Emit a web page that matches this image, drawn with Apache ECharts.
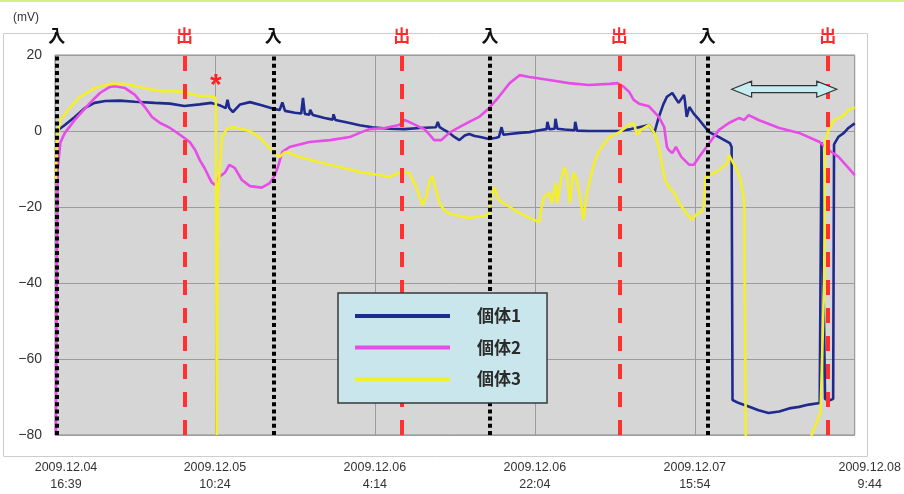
<!DOCTYPE html>
<html>
<head>
<meta charset="utf-8">
<script src="https://cdn.jsdelivr.net/npm/echarts@6/dist/echarts.min.js"></script>
<style>
html,body{margin:0;padding:0;background:#fff;}
#chart{width:904px;height:494px;}
</style>
</head>
<body>
<div id="chart"></div>
<script>
// x values are hours since 2009.12.04 16:39
const xTickLabels = ['2009.12.04\n16:39', '2009.12.05\n10:24', '2009.12.06\n4:14', '2009.12.06\n22:04', '2009.12.07\n15:54', '2009.12.08\n9:44'];
const yTickStep = 20;
const seriesNames = ['個体1', '個体2', '個体3'];

// 入 (in) and 出 (out) event times
const inTimes = [0.2, 24.3, 48.4, 72.6];
const outTimes = [14.4, 38.6, 62.8, 86.0];

// annotation: asterisk point, double arrow span
const asteriskPoint = [17.9, 11.8];
const arrowSpan = [75.3, 87.0];
const arrowLevel = 11;

const s1 = [
 [0.2,0],[1.1,1.6],[2.2,3.7],[3.3,6.0],[4.4,7.4],[5.6,7.9],[7.2,8.0],[8.9,7.7],[11.1,7.4],[12.8,7.2],
 [14.4,6.6],[16.1,7.0],[17.4,7.4],[18.3,6.8],[19.0,6.0],[19.2,8.2],[19.4,6.0],[19.8,5.0],[20.6,7.0],[21.7,7.6],
 [23.0,6.8],[24.4,5.8],[25.0,5.5],[25.3,7.5],[25.6,5.3],[26.7,4.8],[27.4,4.6],[27.6,8.7],[27.8,4.5],[28.3,4.3],
 [28.4,5.6],[28.7,4.2],[30.0,3.4],[30.9,3.0],[31.0,4.4],[31.2,2.9],[32.8,2.1],[33.9,1.5],[35.3,1.0],[37.2,0.6],
 [38.9,0.5],[40.6,0.8],[42.4,1.0],[42.6,2.4],[42.8,1.0],[43.3,0.3],[43.9,-0.5],[44.4,-1.5],[45.0,-2.4],[45.6,-1.2],
 [46.1,-0.8],[46.7,-1.3],[47.2,-1.5],[48.3,-2.1],[49.1,-1.8],[49.4,-1.6],[49.7,1.0],[49.9,-1.0],[50.6,-0.8],[51.7,-0.5],
 [52.8,-0.3],[53.9,0.2],[54.7,0.5],[54.8,2.4],[55.0,0.5],[55.6,0.6],[55.7,3.2],[55.9,0.6],[56.7,0.4],[57.8,0.2],
 [57.9,2.4],[58.1,0.1],[59.4,0],[61.1,0],[62.8,0],[64.1,0.5],[65.0,1.0],[66.1,1.6],[66.7,-0.5],[67.2,3.7],
 [67.7,7.0],[68.1,9.0],[68.7,10.0],[69.1,8.5],[69.4,7.4],[70.0,9.5],[70.1,8.0],[70.3,3.7],[70.6,6.3],[71.1,4.5],
 [71.7,2.9],[72.8,-0.3],[73.9,-1.6],[75.1,-3.2],[75.3,-4.2],[75.4,-70.8],[76.1,-71.6],[77.2,-72.5],[78.3,-73.5],[79.4,-74.2],
 [80.6,-73.8],[81.7,-73.0],[82.8,-72.6],[83.9,-72.0],[85.1,-71.6],[85.3,-2.9],[85.7,-70.5],[86.1,-71.0],[86.6,-70.5],[86.7,-3.5],
 [87.2,-1.5],[87.8,-0.5],[88.3,0.8],[89.0,2.0]
];

const s2 = [
 [0.1,-80],[0.2,-40],[0.3,-10],[0.6,-3.0],[1.1,-0.5],[2.2,2.9],[3.9,7.4],[5.0,10.0],[6.1,11.6],[6.7,11.8],
 [7.8,11.3],[8.9,9.5],[10.0,6.3],[10.8,3.7],[11.7,2.1],[12.8,0.8],[13.9,-1.0],[15.0,-2.9],[15.6,-5.0],[16.1,-7.6],
 [16.7,-10.0],[17.4,-13.4],[17.8,-14.2],[18.1,-13.0],[18.3,-12.0],[18.9,-11.0],[19.4,-8.9],[20.0,-9.7],[20.8,-12.9],[21.7,-14.5],
 [23.0,-14.9],[23.9,-13.7],[24.4,-12.0],[24.8,-9.5],[25.3,-5.5],[26.1,-4.2],[28.3,-2.9],[30.6,-2.4],[32.8,-1.6],[33.9,-0.5],
 [35.0,0.5],[36.7,0.8],[38.3,1.6],[38.9,2.9],[39.4,2.4],[40.6,1.0],[41.1,0.5],[41.7,-1.0],[42.2,-2.4],[43.0,-2.4],
 [43.9,-0.4],[45.0,1.0],[46.1,2.4],[47.2,3.7],[48.3,6.0],[49.4,9.0],[50.6,12.6],[51.7,14.7],[52.8,14.2],[55.0,13.4],
 [57.2,12.6],[59.4,12.1],[61.7,12.4],[62.6,12.6],[63.3,11.6],[63.9,10.3],[64.4,8.2],[65.0,7.2],[66.1,6.5],[67.2,3.7],
 [67.8,1.0],[68.1,-4.2],[68.3,-5.0],[68.7,-5.8],[69.1,-4.2],[69.7,-6.8],[70.6,-8.9],[71.1,-8.9],[71.7,-6.8],[72.8,-3.2],
 [73.9,0.3],[75.0,2.1],[76.1,3.4],[76.7,2.9],[77.2,4.2],[78.3,2.9],[80.6,0.8],[82.8,-0.5],[85.1,-2.9],[86.1,-5.0],
 [87.2,-6.8],[88.3,-9.7],[89.0,-11.6]
];

const s3 = [
 [0.1,-13],[0.2,-2],[0.6,2.9],[1.7,6.3],[2.8,9.0],[4.4,11.3],[6.1,12.4],[7.8,12.4],[9.4,11.6],[11.7,10.5],
 [13.3,10.5],[14.4,10.3],[15.2,9.7],[16.1,9.2],[17.2,9.2],[17.9,8.7],[18.0,-80],[18.1,-18],[18.6,-1.5],[19.2,0.8],
 [20.0,1.0],[21.1,0.3],[21.7,0.0],[22.8,-1.8],[23.9,-4.5],[24.4,-5.8],[25.0,-6.8],[25.6,-5.5],[26.1,-5.8],[27.2,-6.8],
 [29.4,-8.2],[31.7,-9.5],[33.9,-10.8],[36.1,-11.6],[37.2,-12.1],[38.3,-11.0],[39.4,-11.0],[40.0,-13.7],[40.6,-17.4],[40.9,-19.5],
 [41.3,-17.4],[41.7,-12.9],[42.0,-12.0],[42.4,-15.5],[42.8,-19.0],[43.3,-20.8],[43.9,-21.8],[46.1,-22.9],[48.3,-22.1],[48.4,-19.0],
 [48.9,-14.7],[49.4,-18.2],[50.6,-20.0],[51.7,-21.6],[53.3,-23.4],[53.9,-23.9],[54.1,-20.8],[54.4,-17.4],[55.0,-16.3],[55.3,-19.0],
 [55.7,-13.7],[55.9,-19.0],[56.3,-12.9],[56.7,-9.5],[57.0,-12.0],[57.3,-19.0],[57.7,-11.0],[58.1,-12.9],[58.6,-20.0],[58.8,-23.4],
 [59.2,-16.3],[60.0,-8.4],[60.6,-5.0],[61.7,-1.6],[62.8,-0.3],[63.9,1.6],[64.4,2.1],[64.8,-1.0],[65.2,0.3],[66.1,1.6],
 [66.7,-0.5],[67.2,-4.2],[67.6,-9.5],[67.9,-12.9],[68.3,-14.7],[68.9,-16.3],[69.4,-18.7],[70.0,-20.8],[70.6,-22.6],[70.9,-23.4],
 [71.3,-22.1],[71.9,-21.3],[72.2,-20.0],[72.4,-12.1],[72.8,-11.6],[73.9,-10.3],[74.8,-8.4],[75.0,-6.3],[75.3,-7.6],[75.9,-10.3],
 [76.3,-12.9],[76.7,-18.2],[76.9,-90],[84.0,-90],[84.2,-80],[85.2,-74],[85.6,-40],[85.7,-3.2],[86.1,0.3],[86.7,2.9],
 [87.2,3.4],[87.8,4.2],[88.3,5.5],[89.0,6.3]
];

const colors = ['#1f2a8e', '#e84ce8', '#f3ef2a'];
const xInterval = 17.8;

const chart = echarts.init(document.getElementById('chart'), null, {renderer: 'canvas'});

function lineSeries(name, data, color, extra) {
  return Object.assign({
    name: name, type: 'line', data: data, symbol: 'none', smooth: false,
    lineStyle: {color: color, width: 2.6}, itemStyle: {color: color},
    emphasis: {disabled: true}, animation: false, z: 2
  }, extra || {});
}

const option = {
  animation: false,
  backgroundColor: '#ffffff',
  textStyle: {fontFamily: '"Liberation Sans", Arial, sans-serif'},
  grid: {left: 55, right: 48, top: 55, bottom: 59, show: true, backgroundColor: '#d6d6d6', borderColor: '#8e8e8e', borderWidth: 1},
  xAxis: {
    type: 'value', min: 0, max: 89, interval: xInterval,
    axisLine: {show: false}, axisTick: {show: false},
    splitLine: {show: true, lineStyle: {color: '#9c9c9c', width: 1}},
    axisLabel: {
      margin: 24, fontSize: 12.5, color: '#333', lineHeight: 17,
      fontFamily: '"Liberation Sans", Arial, sans-serif',
      rich: {
        f: {fontSize: 12.5, color: '#333', lineHeight: 17, padding: [0, 0, 0, 22]},
        l: {fontSize: 12.5, color: '#333', lineHeight: 17, padding: [0, 0, 0, 30]}
      },
      formatter: function (v) {
        const i = Math.round(v / xInterval);
        const t = xTickLabels[i] || '';
        if (i === 0) return t.split('\n').map(function (s) { return '{f|' + s + '}'; }).join('\n');
        if (i === xTickLabels.length - 1) return t.split('\n').map(function (s) { return '{l|' + s + '}'; }).join('\n');
        return t;
      }
    }
  },
  yAxis: {
    type: 'value', min: -80, max: 20, interval: yTickStep,
    name: '(mV)', nameLocation: 'end', nameGap: 31,
    nameTextStyle: {fontSize: 12, color: '#333', align: 'right', padding: [0, 16, 0, 0]},
    axisLine: {show: false}, axisTick: {show: false},
    splitLine: {show: true, lineStyle: {color: '#9c9c9c', width: 1}},
    axisLabel: {margin: 13, fontSize: 14, color: '#333',
      formatter: function (v) { return String(v).replace('-', '\u2212'); }}
  },
  legend: {
    data: seriesNames, orient: 'vertical', left: 338, top: 293,
    padding: [13, 26, 14, 17], itemWidth: 95, itemHeight: 4, itemGap: 11.5, icon: 'rect',
    backgroundColor: '#c8e6eb', borderColor: '#3a3a3a', borderWidth: 1.5, borderRadius: 0,
    selectedMode: false, z: 10,
    textStyle: {fontSize: 17, fontWeight: 'bold', color: '#2a2a2a', fontFamily: '"Noto Sans CJK JP", sans-serif', padding: [0, 0, 0, 22], lineHeight: 20}
  },
  series: [
    lineSeries(seriesNames[0], s1, colors[0]),
    lineSeries(seriesNames[1], s2, colors[1]),
    lineSeries(seriesNames[2], s3, colors[2], {
      markPoint: {
        symbol: 'circle', symbolSize: 1, itemStyle: {color: 'rgba(0,0,0,0)'},
        label: {show: true, position: 'inside', formatter: '*', color: '#ff2222', fontSize: 30, fontWeight: 'bold'},
        data: [{coord: asteriskPoint}]
      }
    }),
    {
      name: '入', type: 'line', data: [], z: 3, animation: false,
      markLine: {
        silent: true, symbol: ['none', 'none'], animation: false,
        lineStyle: {color: '#000', width: 4, type: [4, 3.2]},
        label: {show: true, position: 'end', distance: 11, formatter: '入', color: '#111', fontSize: 17, fontWeight: 'bold', fontFamily: '"Noto Sans CJK JP", sans-serif'},
        data: inTimes.map(function (t) { return {xAxis: t}; })
      }
    },
    {
      name: '出', type: 'line', data: [], z: 3, animation: false,
      markLine: {
        silent: true, symbol: ['none', 'none'], animation: false,
        lineStyle: {color: '#ff3030', width: 4, type: [15, 13]},
        label: {show: true, position: 'end', distance: 11, formatter: '出', color: '#ff2a2a', fontSize: 17, fontWeight: 'bold', fontFamily: '"Noto Sans CJK JP", sans-serif'},
        data: outTimes.map(function (t) { return {xAxis: t}; })
      }
    }
  ]
};
chart.setOption(option);

// decorations: frame, top strip, and the double arrow placed from data coordinates
const pa = chart.convertToPixel({gridIndex: 0}, [arrowSpan[0], arrowLevel]);
const pb = chart.convertToPixel({gridIndex: 0}, [arrowSpan[1], arrowLevel]);
const x0 = pa[0], x1 = pb[0], yc = pa[1];
const hl = 20, hh = 8, sh = 3.5;
chart.setOption({
  graphic: [
    {type: 'rect', z: 0, silent: true, shape: {x: 3.5, y: 33.5, width: 864, height: 423}, style: {fill: 'none', stroke: '#cdcdcd', lineWidth: 1}},
    {type: 'rect', z: 0, silent: true, shape: {x: 0, y: 0, width: 904, height: 2}, style: {fill: '#d4f07e'}},
    {type: 'polygon', z: 20, silent: true, shape: {points: [
      [x0, yc], [x0 + hl, yc - hh], [x0 + hl, yc - sh], [x1 - hl, yc - sh], [x1 - hl, yc - hh],
      [x1, yc], [x1 - hl, yc + hh], [x1 - hl, yc + sh], [x0 + hl, yc + sh], [x0 + hl, yc + hh]
    ]}, style: {fill: '#c6eef2', stroke: '#333', lineWidth: 1.2}}
  ]
});
</script>
</body>
</html>
